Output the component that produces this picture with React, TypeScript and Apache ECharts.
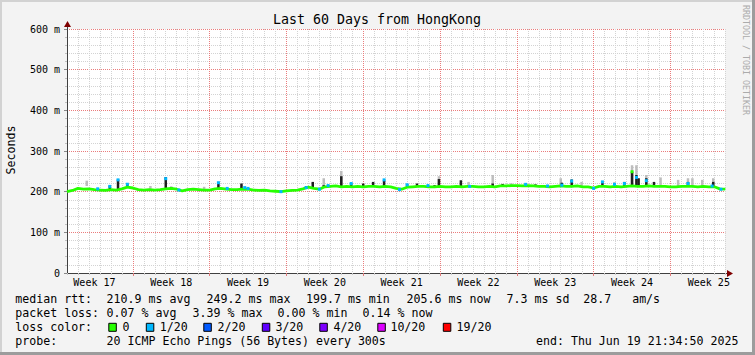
import React, { useEffect, useRef } from 'react';
import * as echarts from 'echarts';

// ---------- data ----------
const weekLabels = ['Week 17', 'Week 18', 'Week 19', 'Week 20', 'Week 21', 'Week 22', 'Week 23', 'Week 24', 'Week 25'];
const weekBoundaries = [6, 13, 20, 27, 34, 41, 48, 55];
const weekMids = [2.5, 9.5, 16.5, 23.5, 30.5, 37.5, 44.5, 51.5, 58.5];
const yTicks = [0, 100, 200, 300, 400, 500, 600];

// median rtt (ms), one sample every half day, day 0 .. 60
const medianMs = [
  200, 203, 208, 206, 207, 205, 204, 203, 205, 204,
  207, 211, 209, 205, 204, 205, 204, 205, 207, 208,
  206, 202, 205, 206, 205, 204, 204, 207, 208, 206,
  205, 205, 206, 206, 204, 203, 204, 202, 201, 200,
  202, 203, 204, 207, 211, 208, 206, 212, 213, 214,
  212, 213, 212, 213, 212, 213, 213, 212, 213, 212,
  208, 206, 211, 212, 213, 213, 212, 212, 213, 212,
  212, 213, 212, 213, 213, 212, 212, 213, 212, 214,
  214, 215, 215, 214, 215, 214, 213, 213, 212, 213,
  214, 213, 213, 214, 212, 212, 209, 213, 213, 212,
  213, 212, 213, 214, 213, 213, 214, 213, 213, 213,
  212, 212, 213, 213, 213, 212, 213, 212, 212, 207,
  206,
];
const medianDays = medianMs.map((_, i) => i * 0.5);

// light smoke: [day, low ms, high ms]
const smokeLight = [
  [1.8, 214, 227], [7.6, 207, 214], [12.5, 206, 212], [23.4, 214, 233], [25.0, 214, 251],
  [33.9, 214, 238], [36.6, 214, 224], [38.8, 214, 241], [40.5, 215, 221], [45.0, 214, 233],
  [46.9, 214, 224], [51.5, 214, 265], [51.9, 214, 265], [52.8, 214, 241], [54.1, 214, 235],
  [55.7, 214, 229], [56.6, 214, 233], [57.0, 214, 233], [57.9, 214, 229], [58.9, 214, 233],
];

// dark smoke: [day, low ms, high ms]
const smokeDark = [
  [3.9, 204, 215], [4.65, 204, 230], [5.5, 209, 220], [9.0, 206, 236], [9.5, 207, 212],
  [13.8, 206, 222], [15.9, 205, 220], [21.8, 207, 214], [22.4, 208, 224], [23.4, 210, 216],
  [25.0, 212, 238], [25.9, 212, 220], [27.0, 212, 220], [27.9, 212, 224], [28.9, 212, 228],
  [31.0, 210, 219], [31.9, 212, 220], [33.5, 212, 216], [33.9, 212, 231], [35.9, 212, 228],
  [38.8, 213, 220], [39.7, 214, 219], [42.7, 214, 218], [45.1, 213, 222], [46.0, 213, 230],
  [48.8, 213, 222], [49.9, 212, 222], [50.8, 212, 224], [51.5, 213, 249], [51.9, 213, 241],
  [52.1, 213, 233], [52.8, 213, 233], [53.5, 213, 224], [56.6, 213, 224], [58.9, 212, 224],
  [59.6, 204, 209],
];

// loss-coloured median points: [day, ms, loss level index]
const lossMarks = [
  [2.8, 207, 1], [3.9, 213, 1], [4.65, 229, 1], [5.5, 218, 1], [9.0, 232, 1],
  [10.2, 204, 1], [13.8, 222, 1], [14.6, 208, 1], [16.2, 210, 1], [16.5, 208, 1],
  [19.5, 200, 1], [21.8, 210, 1], [23.0, 206, 1], [23.8, 215, 1], [25.9, 220, 1],
  [28.9, 229, 1], [30.3, 205, 1], [31.0, 217, 1], [32.9, 215, 1], [36.7, 213, 1],
  [41.8, 218, 1], [43.8, 214, 1], [45.1, 216, 1], [46.0, 226, 1], [48.0, 208, 1],
  [48.8, 224, 1], [49.9, 218, 1], [50.8, 220, 1], [51.5, 249, 0], [51.9, 235, 1],
  [52.8, 227, 1], [56.6, 220, 1], [58.8, 214, 1], [59.6, 206, 1],
];

const lossLabels = ['0', '1/20', '2/20', '3/20', '4/20', '10/20', '19/20'];
const lossColors = ['#26ff00', '#00b8ff', '#0059ff', '#5e00ff', '#7e00ff', '#dd00ff', '#ff0000'];

const rttStats = [210.9, 249.2, 199.7, 205.6]; // avg, max, min, now
const rttSd = 7.3;
const rttAmS = 28.7;
const lossStats = [0.07, 3.39, 0.0, 0.14]; // avg, max, min, now
const probeText = '20 ICMP Echo Pings (56 Bytes) every 300s';
const endText = 'end: Thu Jun 19 21:34:50 2025';
const titleText = 'Last 60 Days from HongKong';

// ---------- layout ----------
const MONO = '"DejaVu Sans Mono", monospace';
const GL = 67, GT = 29, GW = 658.3, GH = 244;
const LEG_FONT = `11.6px ${MONO}`;
const MINOR = '#d3d3d3';
const MAJOR = '#ea7c7c';
const rowY = [299.3, 313.3, 327.3, 341];
const row1X = [15.3, 106.6, 206.6, 306, 406.6, 506.6, 583.3];
const row2X = [15.3, 106.6, 192.6, 277.6, 362.6];
const row4X = [15.3, 106.6, 536];
const boxX = [108.3, 145.8, 203.3, 261.8, 319.3, 377.3, 442.8];
const boxLabelX = [122.4, 159.8, 217.6, 275.4, 333.4, 390.4, 456.6];

function legendText(text: string, x: number, y: number) {
  return { type: 'text', x, y, silent: true, style: { text, font: LEG_FONT, fill: '#000', align: 'left', verticalAlign: 'middle' } };
}

function rangeRender(color: string, w: number) {
  return (params: any, api: any) => {
    const x = api.value(0), lo = api.value(1), hi = api.value(2);
    const p1 = api.coord([x, hi]);
    const p2 = api.coord([x, lo]);
    return { type: 'rect', shape: { x: p1[0] - w / 2, y: p1[1], width: w, height: p2[1] - p1[1] }, style: { fill: color } };
  };
}

function buildOption() {
  const graphics: any[] = [];
  // frame shading
  graphics.push({ type: 'rect', silent: true, shape: { x: 0, y: 0, width: 755, height: 2 }, style: { fill: '#d2d2d2' } });
  graphics.push({ type: 'rect', silent: true, shape: { x: 0, y: 0, width: 2, height: 355 }, style: { fill: '#d2d2d2' } });
  graphics.push({ type: 'rect', silent: true, shape: { x: 0, y: 352, width: 755, height: 3 }, style: { fill: '#9c9c9c' } });
  graphics.push({ type: 'rect', silent: true, shape: { x: 752, y: 0, width: 3, height: 355 }, style: { fill: '#9c9c9c' } });
  // title
  graphics.push({ type: 'text', x: 377, y: 19.5, silent: true, style: { text: titleText, font: `13.3px ${MONO}`, fill: '#000', align: 'center', verticalAlign: 'middle' } });
  // unit label
  graphics.push({ type: 'text', x: 11, y: 150, rotation: Math.PI / 2, silent: true, style: { text: 'Seconds', font: LEG_FONT, fill: '#000', align: 'center', verticalAlign: 'middle' } });
  // watermark
  graphics.push({ type: 'text', x: 745.5, y: 60, rotation: -Math.PI / 2, silent: true, style: { text: 'RRDTOOL / TOBI OETIKER', font: `8.3px ${MONO}`, fill: '#ababab', align: 'center', verticalAlign: 'middle' } });
  // axis extensions + arrows
  graphics.push({ type: 'line', silent: true, shape: { x1: 67.5, y1: GT, x2: 67.5, y2: 25 }, style: { stroke: '#404040', lineWidth: 1 } });
  graphics.push({ type: 'line', silent: true, shape: { x1: GL + GW, y1: 273.5, x2: 728, y2: 273.5 }, style: { stroke: '#404040', lineWidth: 1 } });
  graphics.push({ type: 'polygon', silent: true, shape: { points: [[64, 27], [71, 27], [67.5, 21]] }, style: { fill: '#7f0000' } });
  graphics.push({ type: 'polygon', silent: true, shape: { points: [[727, 270], [727, 277], [733, 273.5]] }, style: { fill: '#7f0000' } });

  // legend rows
  const r1 = [
    'median rtt:',
    `${rttStats[0].toFixed(1)} ms avg`,
    `${rttStats[1].toFixed(1)} ms max`,
    `${rttStats[2].toFixed(1)} ms min`,
    `${rttStats[3].toFixed(1)} ms now`,
    `${rttSd.toFixed(1)} ms sd`,
    `${rttAmS.toFixed(1)}   am/s`,
  ];
  r1.forEach((t, i) => graphics.push(legendText(t, row1X[i], rowY[0])));
  const r2 = [
    'packet loss:',
    `${lossStats[0].toFixed(2)} % avg`,
    `${lossStats[1].toFixed(2)} % max`,
    `${lossStats[2].toFixed(2)} % min`,
    `${lossStats[3].toFixed(2)} % now`,
  ];
  r2.forEach((t, i) => graphics.push(legendText(t, row2X[i], rowY[1])));
  graphics.push(legendText('loss color:', 15.3, rowY[2]));
  lossLabels.forEach((lab, i) => {
    graphics.push({ type: 'rect', silent: true, shape: { x: boxX[i] + 0.5, y: rowY[2] - 4, width: 7.5, height: 8 }, style: { fill: lossColors[i], stroke: '#000', lineWidth: 1 } });
    graphics.push(legendText(lab, boxLabelX[i], rowY[2]));
  });
  const r4 = ['probe:', probeText, endText];
  r4.forEach((t, i) => graphics.push(legendText(t, row4X[i], rowY[3])));

  // minor grid colours: skip the lines that coincide with major lines
  const xMinorColors = [MINOR, MINOR, MINOR, MINOR, MINOR, MINOR, 'rgba(0,0,0,0)'];
  const yMinorColors = ['rgba(0,0,0,0)', MINOR, MINOR, MINOR, MINOR];

  return {
    animation: false,
    backgroundColor: '#f3f3f3',
    grid: { left: GL, top: GT, width: GW, height: GH, show: true, backgroundColor: '#ffffff', borderWidth: 0 },
    xAxis: [
      {
        type: 'value', min: 0, max: 60, interval: 1, position: 'bottom',
        axisLine: { show: true, lineStyle: { color: '#404040', width: 1 } },
        axisTick: { show: true, length: 2, lineStyle: { color: '#c8c8c8' } },
        axisLabel: { show: false },
        splitLine: { show: true, lineStyle: { color: xMinorColors, type: [1, 1], width: 1 } },
      },
      {
        type: 'value', min: 0, max: 60, position: 'bottom',
        axisLine: { show: false },
        axisTick: { show: true, length: 3, customValues: weekBoundaries, lineStyle: { color: '#e07a7a' } },
        axisLabel: {
          show: true, customValues: weekMids, margin: 4,
          formatter: (v: number) => { const i = weekMids.indexOf(v); return i >= 0 ? weekLabels[i] : ''; },
          fontFamily: MONO, fontSize: 10, color: '#000',
        },
        splitLine: { show: true, lineStyle: { color: MAJOR, type: [1, 1], width: 1 } },
      },
    ],
    yAxis: [
      {
        type: 'value', min: 0, max: 600, interval: 20, position: 'left',
        axisLine: { show: true, lineStyle: { color: '#404040', width: 1 } },
        axisTick: { show: true, length: 2, lineStyle: { color: '#c0c0c0' } },
        axisLabel: { show: false },
        splitLine: { show: true, lineStyle: { color: yMinorColors, type: [1, 1], width: 1 } },
      },
      {
        type: 'value', min: 0, max: 600, interval: 100, position: 'left',
        axisLine: { show: false },
        axisTick: { show: true, length: 3, lineStyle: { color: '#888888' } },
        axisLabel: {
          show: true, margin: 7, fontFamily: MONO, fontSize: 10, color: '#000',
          formatter: (v: number) => (yTicks.indexOf(v) >= 0 ? (v === 0 ? '0' : `${v} m`) : ''),
        },
        splitLine: { show: true, lineStyle: { color: MAJOR, type: [1, 1], width: 1 } },
      },
    ],
    series: [
      {
        type: 'custom', name: 'smoke light', xAxisIndex: 0, yAxisIndex: 0, z: 3, silent: true,
        renderItem: rangeRender('#bdbdbd', 2.5), data: smokeLight, encode: { x: 0, y: [1, 2] },
      },
      {
        type: 'custom', name: 'smoke dark', xAxisIndex: 0, yAxisIndex: 0, z: 4, silent: true,
        renderItem: rangeRender('#1e1e1e', 2.5), data: smokeDark, encode: { x: 0, y: [1, 2] },
      },
      {
        type: 'line', name: 'median rtt', xAxisIndex: 0, yAxisIndex: 0, z: 5, silent: true,
        showSymbol: false, symbol: 'none',
        data: medianDays.map((d, i) => [d, medianMs[i]]),
        lineStyle: { color: lossColors[0], width: 2.8 },
      },
      {
        type: 'custom', name: 'loss', xAxisIndex: 0, yAxisIndex: 0, z: 6, silent: true,
        data: lossMarks, encode: { x: 0, y: 1 },
        renderItem: (params: any, api: any) => {
          const p = api.coord([api.value(0), api.value(1)]);
          const c = lossColors[api.value(2)];
          return { type: 'rect', shape: { x: p[0] - 1.5, y: p[1] - 1.5, width: 3, height: 3 }, style: { fill: c } };
        },
      },
    ],
    graphic: graphics,
  };
}

export default function App() {
  const ref = useRef<HTMLDivElement>(null);
  useEffect(() => {
    if (!ref.current) return;
    const chart = echarts.init(ref.current, null, { renderer: 'svg' });
    chart.setOption(buildOption() as any);
    return () => chart.dispose();
  }, []);
  return <div ref={ref} style={{ position: 'fixed', left: 0, top: 0, width: 755, height: 355 }} />;
}
